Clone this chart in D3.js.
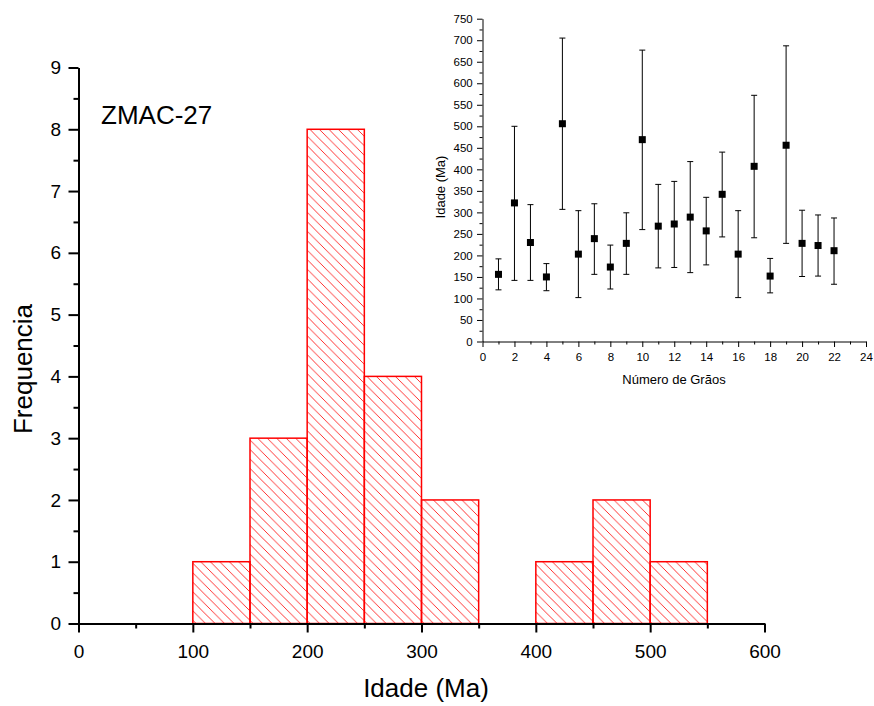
<!DOCTYPE html>
<html>
<head>
<meta charset="utf-8">
<script src="https://cdn.jsdelivr.net/npm/d3@7"></script>
<style>
  body { margin: 0; background: #fff; }
  text { font-family: "Liberation Sans", Arial, sans-serif; fill: #000; }
</style>
</head>
<body>
<div id="chart"></div>
<script>
// histograma de idades (Ma)
var binStart = [100, 150, 200, 250, 300, 400, 450, 500];
var binEnd   = [150, 200, 250, 300, 350, 450, 500, 550];
var counts   = [1, 3, 8, 4, 2, 1, 2, 1];
var xTicks = [0, 100, 200, 300, 400, 500, 600];
var yTicks = [0, 1, 2, 3, 4, 5, 6, 7, 8, 9];

// inset: idade por grão, com barras de erro
var grains = [1, 2, 3, 4, 5, 6, 7, 8, 9, 10, 11, 12, 13, 14, 15, 16, 17, 18, 19, 20, 21, 22];
var ages   = [156, 322, 230, 150, 506, 203, 239, 173, 228, 469, 268, 273, 289, 257, 342, 203, 407, 152, 456, 228, 223, 211];
var upper  = [192, 500, 318, 181, 705, 304, 320, 224, 299, 677, 365, 372, 418, 335, 440, 304, 572, 193, 687, 305, 294, 287];
var lower  = [120, 142, 142, 118, 307, 102, 156, 122, 156, 260, 171, 172, 160, 178, 243, 102, 241, 113, 228, 151, 152, 133];
var insetXTicks = [0, 2, 4, 6, 8, 10, 12, 14, 16, 18, 20, 22, 24];
var insetYTicks = [0, 50, 100, 150, 200, 250, 300, 350, 400, 450, 500, 550, 600, 650, 700, 750];

var svg = d3.select("#chart").append("svg")
    .attr("width", 874)
    .attr("height", 706);

// hachura
svg.append("defs").append("pattern")
    .attr("id", "hatch")
    .attr("patternUnits", "userSpaceOnUse")
    .attr("width", 9.5)
    .attr("height", 9.5)
    .append("path")
    .attr("d", "M0,0 L9.5,9.5 M-2,7.5 L2,11.5 M7.5,-2 L11.5,2")
    .attr("stroke", "#ff0000")
    .attr("stroke-width", 0.8);

var x = d3.scaleLinear().domain([0, 600]).range([78.5, 764.5]);
var y = d3.scaleLinear().domain([0, 9]).range([623.5, 67.5]);

// barras
svg.selectAll("rect.bar")
    .data(counts)
    .enter().append("rect")
    .attr("class", "bar")
    .attr("x", function(d, i) { return x(binStart[i]); })
    .attr("y", function(d) { return y(d); })
    .attr("width", function(d, i) { return x(binEnd[i]) - x(binStart[i]); })
    .attr("height", function(d) { return y(0) - y(d); })
    .attr("fill", "url(#hatch)")
    .attr("stroke", "#ff0000")
    .attr("stroke-width", 1.5);

// eixos principais - ticks menores
svg.append("g")
    .attr("transform", "translate(0," + y(0) + ")")
    .call(d3.axisBottom(x).tickValues([50, 150, 250, 350, 450, 550]).tickSize(5).tickFormat(""))
    .call(function(g) { g.select(".domain").remove(); })
    .selectAll("line").attr("stroke-width", 2);
svg.append("g")
    .attr("transform", "translate(" + x(0) + ",0)")
    .call(d3.axisLeft(y).tickValues([0.5, 1.5, 2.5, 3.5, 4.5, 5.5, 6.5, 7.5, 8.5]).tickSize(5).tickFormat(""))
    .call(function(g) { g.select(".domain").remove(); })
    .selectAll("line").attr("stroke-width", 2);

var gx = svg.append("g")
    .attr("transform", "translate(0," + y(0) + ")")
    .call(d3.axisBottom(x).tickValues(xTicks).tickSize(9).tickSizeOuter(0).tickPadding(12));
gx.select(".domain").attr("stroke-width", 2);
gx.selectAll("line").attr("stroke-width", 2);
gx.selectAll("text").style("font-size", "19px").attr("font-family", "Liberation Sans");

var gy = svg.append("g")
    .attr("transform", "translate(" + x(0) + ",0)")
    .call(d3.axisLeft(y).tickValues(yTicks).tickSize(10).tickSizeOuter(0).tickPadding(7.5));
gy.select(".domain").attr("stroke-width", 2);
gy.selectAll("line").attr("stroke-width", 2);
gy.selectAll("text").style("font-size", "19px").attr("font-family", "Liberation Sans");

svg.append("text")
    .attr("x", 426)
    .attr("y", 697)
    .attr("text-anchor", "middle")
    .style("font-size", "26px")
    .text("Idade (Ma)");

svg.append("text")
    .attr("transform", "translate(32,369) rotate(-90)")
    .attr("text-anchor", "middle")
    .style("font-size", "26px")
    .text("Frequencia");

svg.append("text")
    .attr("x", 101)
    .attr("y", 124)
    .style("font-size", "26px")
    .text("ZMAC-27");

// ---- inset ----
var xi = d3.scaleLinear().domain([0, 24]).range([482.5, 866]);
var yi = d3.scaleLinear().domain([0, 750]).range([341.5, 18.7]);

var minorX = [1, 3, 5, 7, 9, 11, 13, 15, 17, 19, 21, 23];
var minorY = [25, 75, 125, 175, 225, 275, 325, 375, 425, 475, 525, 575, 625, 675, 725];

svg.append("g")
    .attr("transform", "translate(0," + yi(0) + ")")
    .call(d3.axisBottom(xi).tickValues(minorX).tickSize(3).tickFormat(""))
    .call(function(g) { g.select(".domain").remove(); });
svg.append("g")
    .attr("transform", "translate(" + xi(0) + ",0)")
    .call(d3.axisLeft(yi).tickValues(minorY).tickSize(3).tickFormat(""))
    .call(function(g) { g.select(".domain").remove(); });

var gxi = svg.append("g")
    .attr("transform", "translate(0," + yi(0) + ")")
    .call(d3.axisBottom(xi).tickValues(insetXTicks).tickSize(5.5).tickSizeOuter(0).tickPadding(5.8));
gxi.selectAll("text").style("font-size", "11.5px").attr("font-family", "Liberation Sans");

var gyi = svg.append("g")
    .attr("transform", "translate(" + xi(0) + ",0)")
    .call(d3.axisLeft(yi).tickValues(insetYTicks).tickSize(5.5).tickSizeOuter(0).tickPadding(4.3));
gyi.selectAll("text").style("font-size", "11.5px").attr("font-family", "Liberation Sans");

svg.append("text")
    .attr("x", 674)
    .attr("y", 384)
    .attr("text-anchor", "middle")
    .style("font-size", "13px")
    .text("Número de Grãos");

svg.append("text")
    .attr("transform", "translate(445,187) rotate(-90)")
    .attr("text-anchor", "middle")
    .style("font-size", "13px")
    .text("Idade (Ma)");

// barras de erro
var err = svg.append("g").attr("stroke", "#000").attr("stroke-width", 1);
grains.forEach(function(g, i) {
    err.append("line")
        .attr("x1", xi(g)).attr("x2", xi(g))
        .attr("y1", yi(upper[i])).attr("y2", yi(lower[i]));
    err.append("line")
        .attr("x1", xi(g) - 3).attr("x2", xi(g) + 3)
        .attr("y1", yi(upper[i])).attr("y2", yi(upper[i]));
    err.append("line")
        .attr("x1", xi(g) - 3).attr("x2", xi(g) + 3)
        .attr("y1", yi(lower[i])).attr("y2", yi(lower[i]));
});

svg.selectAll("rect.pt")
    .data(ages)
    .enter().append("rect")
    .attr("class", "pt")
    .attr("x", function(d, i) { return xi(grains[i]) - 3.5; })
    .attr("y", function(d) { return yi(d) - 3.5; })
    .attr("width", 7)
    .attr("height", 7)
    .attr("fill", "#000");
</script>
</body>
</html>
